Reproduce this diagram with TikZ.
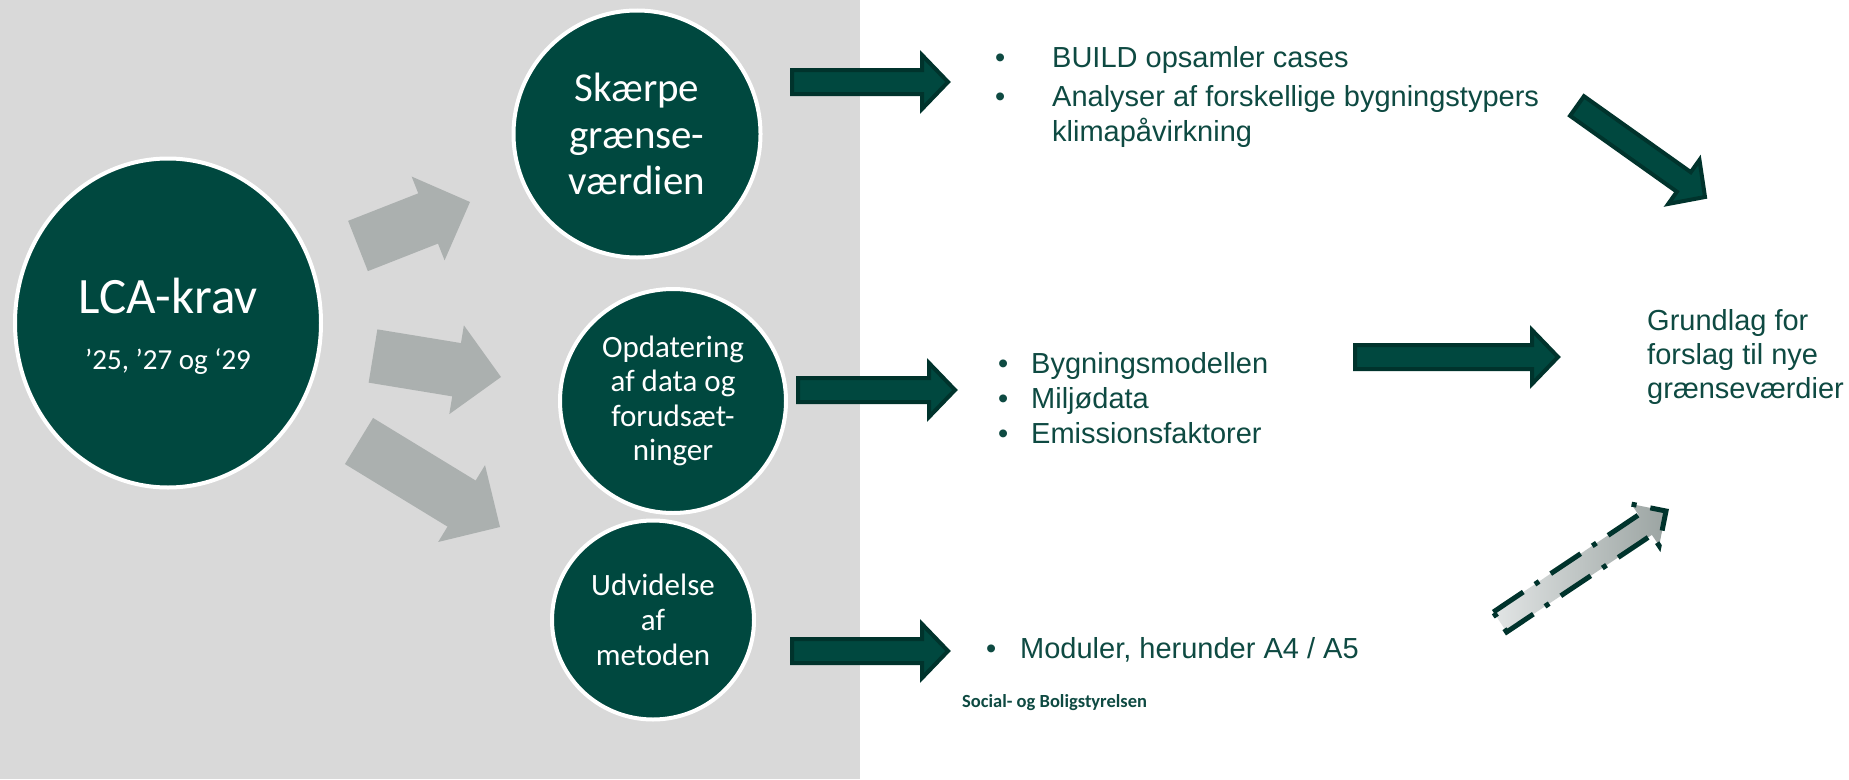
\documentclass[tikz,border=0pt]{standalone}
\usepackage{fontspec}
\setmainfont{Liberation Sans}
\newfontfamily\calibri{Carlito}
\usetikzlibrary{calc,shapes.geometric}

\definecolor{sbgreen}{HTML}{00483F}
\definecolor{sbdark}{HTML}{00332C}
\definecolor{sbtext}{HTML}{0E4A42}
\definecolor{bggray}{HTML}{D9D9D9}
\definecolor{arrowgray}{HTML}{ABB0AF}
\definecolor{shadelight}{HTML}{E2E5E5}
\definecolor{shadedark}{HTML}{9BA4A2}

% block arrow: [style]{from}{to}{shaft half width}{head half width}{head length}
\newcommand\blockarrow[6][]{%
  \coordinate (hb) at ($(#3)!#6!(#2)$);
  \draw[#1] ($(#2)!#4!90:(#3)$) -- ($(hb)!#4!-90:(#2)$) -- ($(hb)!#5!-90:(#2)$)
    -- (#3) -- ($(hb)!#5!90:(#2)$) -- ($(hb)!#4!90:(#2)$) -- ($(#2)!#4!-90:(#3)$) -- cycle;
}

\begin{document}
\begin{tikzpicture}[x=1pt,y=-1pt,
    ring/.style={ellipse, fill=sbgreen, draw=white, line width=4pt, inner sep=0pt, text=white, align=center},
    ringtext/.style={anchor=base, text=white, inner sep=0pt},
    grayarrow/.style={fill=arrowgray, draw=none},
    darkarrow/.style={fill=sbgreen, draw=sbdark, line width=4pt, line join=miter},
    dasharrow/.style={draw=sbdark, line width=5pt, dash pattern=on 36pt off 14pt on 5pt off 14pt,
      left color=shadelight, right color=shadedark},
    txt/.style={anchor=base west, text=sbtext, font=\fontsize{29}{34}\selectfont, inner sep=0pt}]
  \useasboundingbox (0,0) rectangle (1849,779);
  \fill[white] (0,0) rectangle (1849,779);
  \fill[bggray] (0,0) rectangle (860,779);

  % circles
  \node (lca) [ring, minimum width=306pt, minimum height=329pt] at (168,323) {};
  \node (lcatitle) [ringtext, font=\calibri\fontsize{51}{51}\selectfont] at (168,313) {LCA-krav};
  \node (lcayears) [ringtext, font=\calibri\fontsize{29}{29}\selectfont] at (168,369) {’25, ’27 og ‘29};
  \node (skaerpe) [ring, minimum size=247pt, font=\calibri\fontsize{41}{46.5}\selectfont] at (637,134)
    {Skærpe\\grænse-\\værdien};
  \node (opdat) [ring, minimum width=226pt, minimum height=224pt, font=\calibri\fontsize{31}{34.5}\selectfont] at (673,401)
    {Opdatering\\af data og\\forudsæt-\\ninger};
  \node (udvid) [ring, minimum width=202pt, minimum height=199pt, font=\calibri\fontsize{31}{35}\selectfont] at (653,620)
    {Udvidelse\\af\\metoden};

  % gray arrows out of LCA-krav
  \coordinate (gs1) at (358,246); \coordinate (ge1) at (470,202);
  \coordinate (gs2) at (373,356); \coordinate (ge2) at (501,377);
  \coordinate (gs3) at (359,441); \coordinate (ge3) at (500,527);
  \foreach \i in {1,2,3}{
    \blockarrow[grayarrow]{gs\i}{ge\i}{27pt}{45pt}{45pt}
  }

  % dark arrows
  \coordinate (sk-from) at (792,82);    \coordinate (sk-to) at (948,82);
  \coordinate (op-from) at (798,390);   \coordinate (op-to) at (955,390);
  \coordinate (ud-from) at (792,651);   \coordinate (ud-to) at (948,651);
  \coordinate (list-from) at (1355,357); \coordinate (list-to) at (1558,357);
  \coordinate (case-from) at (1577,106); \coordinate (case-to) at (1705,197);
  \blockarrow[darkarrow]{sk-from}{sk-to}{12pt}{27pt}{26pt}
  \blockarrow[darkarrow]{op-from}{op-to}{12pt}{27pt}{26pt}
  \blockarrow[darkarrow]{ud-from}{ud-to}{12pt}{27pt}{26pt}
  \blockarrow[darkarrow]{list-from}{list-to}{12pt}{27pt}{26pt}
  \blockarrow[darkarrow]{case-from}{case-to}{12pt}{27pt}{26pt}

  % dashed arrow
  \coordinate (mod-from) at (1500,622); \coordinate (mod-to) at (1666,511);
  \blockarrow[dasharrow]{mod-from}{mod-to}{12pt}{25pt}{25pt}

  % first list
  \node (bul1) [txt] at (995,67) {•};
  \node (build) [txt] at (1052,67) {BUILD opsamler cases};
  \node (bul2) [txt] at (995,106) {•};
  \node (analyser) [txt] at (1052,106) {Analyser af forskellige bygningstypers};
  \node (klima) [txt] at (1052,141) {klimapåvirkning};

  % second list
  \foreach \t [count=\i] in {Bygningsmodellen, Miljødata, Emissionsfaktorer}{
    \node (bul-\i) [txt] at (998,338+35*\i) {•};
    \node (data-\i) [txt] at (1031,338+35*\i) {\t};
  }

  % third list
  \node (bul3) [txt] at (986,658) {•};
  \node (moduler) [txt] at (1020,658) {Moduler, herunder A4 / A5};
  \node (sbst) [anchor=base west, text=sbtext, inner sep=0pt,
    font=\calibri\bfseries\fontsize{18.5}{20}\selectfont] at (962,707) {Social- og Boligstyrelsen};

  % result
  \foreach \t [count=\i] in {Grundlag for, forslag til nye, grænseværdier}{
    \node (res-\i) [txt] at (1647,296+34*\i) {\t};
  }
\end{tikzpicture}
\end{document}
